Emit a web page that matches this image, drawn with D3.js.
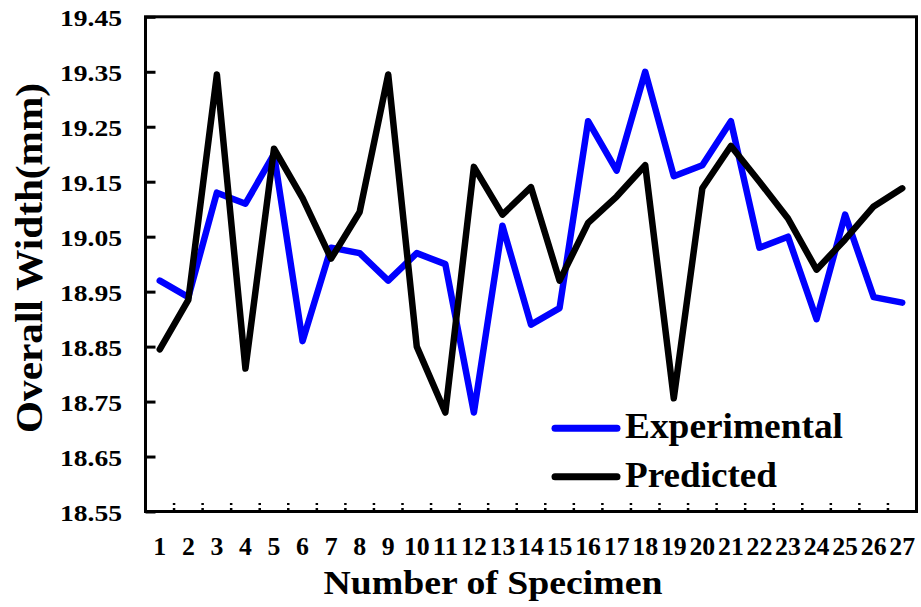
<!DOCTYPE html>
<html>
<head>
<meta charset="utf-8">
<script src="https://cdn.jsdelivr.net/npm/d3@7"></script>
<style>
  html, body { margin: 0; padding: 0; background: #fff; }
  svg { display: block; }
  svg text { font-family: "Liberation Serif", "Times New Roman", serif !important; font-weight: bold; fill: #000; }
</style>
</head>
<body>
<svg id="chart" width="921" height="607"></svg>
<script>
// Specimen numbers on the x axis
const specimens = d3.range(1, 28);

// Measured overall width (mm)
const experimental = [18.97, 18.94, 19.13, 19.11, 19.20, 18.86, 19.03, 19.02, 18.97, 19.02,
                      19.00, 18.73, 19.07, 18.89, 18.92, 19.26, 19.17, 19.35, 19.16, 19.18,
                      19.26, 19.03, 19.05, 18.90, 19.09, 18.94, 18.93];

// Model prediction of overall width (mm)
const predicted = [18.845, 18.935, 19.345, 18.81, 19.21, 19.12, 19.01, 19.095, 19.345, 18.85,
                   18.73, 19.177, 19.09, 19.14, 18.97, 19.075, 19.123, 19.18, 18.756, 19.138,
                   19.215, 19.15, 19.083, 18.99, 19.045, 19.105, 19.138];

// Y axis tick values
const yTicks = [18.55, 18.65, 18.75, 18.85, 18.95, 19.05, 19.15, 19.25, 19.35, 19.45];

const seriesNames = ["Experimental", "Predicted"];
const seriesColors = ["#0000ff", "#000000"];

const svg = d3.select("#chart");
const plot = { left: 145.5, right: 916.5, top: 16.8, bottom: 511.5 };

const x = d3.scaleBand().domain(specimens).range([plot.left, plot.right]).padding(0);
const y = d3.scaleLinear().domain([18.55, 19.45]).range([plot.bottom, plot.top]);

// Data lines
const line = d3.line()
  .x((d, i) => x(specimens[i]) + x.bandwidth() / 2)
  .y(d => y(d));

[experimental, predicted].forEach((vals, k) => {
  svg.append("path")
    .datum(vals)
    .attr("d", line)
    .attr("fill", "none")
    .attr("stroke", seriesColors[k])
    .attr("stroke-width", 6.5)
    .attr("stroke-linejoin", "round")
    .attr("stroke-linecap", "round");
});

// Plot frame
svg.append("rect")
  .attr("x", plot.left).attr("y", plot.top)
  .attr("width", plot.right - plot.left).attr("height", plot.bottom - plot.top)
  .attr("fill", "none").attr("stroke", "#000").attr("stroke-width", 3);

// Y axis with inward ticks
const yAxis = svg.append("g")
  .attr("transform", `translate(${plot.left},0)`)
  .call(d3.axisLeft(y).tickValues(yTicks).tickSize(-10).tickPadding(23.5).tickFormat(d3.format(".2f")))
  .attr("font-family", "Liberation Serif");
yAxis.select(".domain").remove();
yAxis.selectAll(".tick line").attr("stroke", "#000").attr("stroke-width", 3);
yAxis.selectAll(".tick text")
  .attr("font-size", 24)
  .attr("dy", null)
  .attr("y", 8.5)
  .attr("textLength", 62)
  .attr("lengthAdjust", "spacingAndGlyphs");

// X axis labels (no visible tick marks)
const xAxis = svg.append("g")
  .attr("transform", `translate(0,${plot.bottom})`)
  .call(d3.axisBottom(x).tickSize(0).tickPadding(0))
  .attr("font-family", "Liberation Serif");
xAxis.select(".domain").remove();
xAxis.selectAll(".tick text")
  .attr("font-size", 25.5)
  .attr("dy", null)
  .attr("y", 43)
  .attr("textLength", d => String(d).length * 12.9)
  .attr("lengthAdjust", "spacingAndGlyphs");

// Dotted minor ticks between specimens
svg.append("g")
  .selectAll("line")
  .data(specimens.slice(1))
  .join("line")
  .attr("x1", d => x(d)).attr("x2", d => x(d))
  .attr("y1", plot.bottom - 1.5).attr("y2", plot.bottom - 10)
  .attr("stroke", "#000").attr("stroke-width", 2.5)
  .attr("stroke-dasharray", "2,3");

// Axis titles
svg.append("text")
  .attr("x", 493).attr("y", 594)
  .attr("text-anchor", "middle")
  .attr("font-size", 34)
  .attr("textLength", 339)
  .attr("lengthAdjust", "spacingAndGlyphs")
  .text("Number of Specimen");

svg.append("text")
  .attr("transform", "translate(41.5,258) rotate(-90)")
  .attr("text-anchor", "middle")
  .attr("font-size", 37)
  .attr("textLength", 350)
  .attr("lengthAdjust", "spacingAndGlyphs")
  .text("Overall Width(mm)");

// Legend
const legend = svg.append("g");
const legendRows = [
  { y: 428.3, base: 438, len: 218 },
  { y: 476.7, base: 487.3, len: 152 }
];
seriesNames.forEach((name, k) => {
  legend.append("line")
    .attr("x1", 555).attr("x2", 617)
    .attr("y1", legendRows[k].y).attr("y2", legendRows[k].y)
    .attr("stroke", seriesColors[k]).attr("stroke-width", 7)
    .attr("stroke-linecap", "round");
  legend.append("text")
    .attr("x", 625).attr("y", legendRows[k].base)
    .attr("font-size", 35)
    .attr("textLength", legendRows[k].len)
    .attr("lengthAdjust", "spacingAndGlyphs")
    .text(name);
});
</script>
</body>
</html>
